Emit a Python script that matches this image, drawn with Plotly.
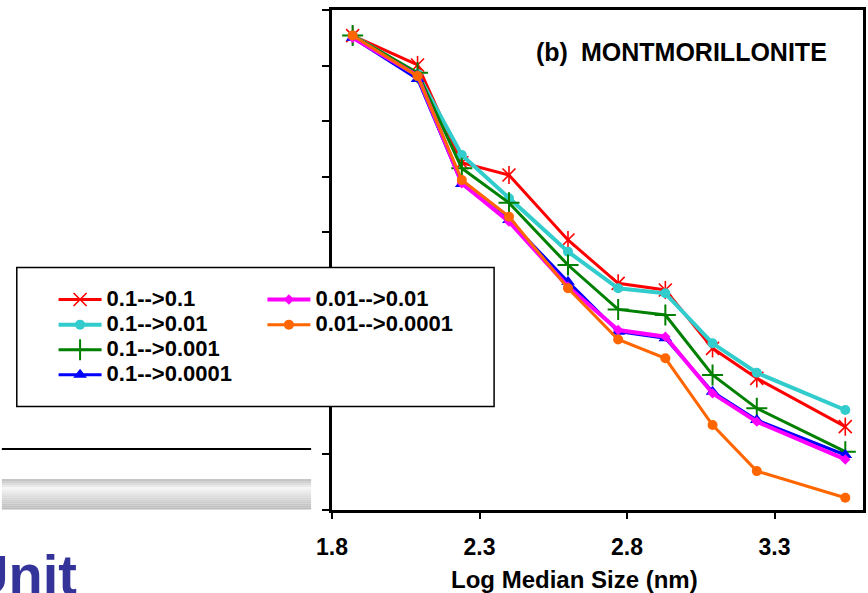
import plotly.graph_objects as go

# ---------------- data ----------------
log_size = [1.87, 2.09, 2.24, 2.40, 2.60, 2.77, 2.93, 3.09, 3.24, 3.54]

s_01_to_01 = [8.54, 8.01, 6.25, 6.03, 4.86, 4.08, 3.96, 2.91, 2.37, 1.50]
s_01_to_001 = [8.54, 7.85, 6.39, 5.61, 4.65, 3.99, 3.90, 3.00, 2.47, 1.80]
s_01_to_0001 = [8.54, 7.87, 6.15, 5.53, 4.41, 3.61, 3.51, 2.43, 1.83, 1.05]
s_01_to_00001 = [8.50, 7.76, 5.87, 5.22, 4.11, 3.21, 3.09, 2.13, 1.62, 0.99]
s_001_to_001 = [8.50, 7.82, 5.88, 5.19, 4.02, 3.24, 3.12, 2.10, 1.59, 0.91]
s_001_to_00001 = [8.54, 7.81, 5.94, 5.28, 3.99, 3.07, 2.73, 1.53, 0.70, 0.22]

series_names = ["0.1-->0.1", "0.1-->0.01", "0.1-->0.001", "0.1-->0.0001",
                "0.01-->0.01", "0.01-->0.0001"]
x_tick_vals = [1.8, 2.3, 2.8, 3.3]
x_tick_text = ["1.8", "2.3", "2.8", "3.3"]
title_tag = "(b)"
title_text = "MONTMORILLONITE"
x_title = "Log Median Size (nm)"
slide_word = "Unit"

# ---------------- figure ----------------
W, H = 868, 593
L, R, T, B = 332, 2, 10, 83
PW, PH = W - L - R, H - T - B


def px_x(px):
    return (px - L) / PW


def px_y(py):
    return (H - B - py) / PH


def lg(name):
    return "<span style='font-size:22px'>" + name + "</span>"


fig = go.Figure()

styles = [
    dict(y=s_01_to_01, color="#FF0000", lw=3, sym="x-thin-open", size=13, mlw=1.6, legend="legend"),
    dict(y=s_01_to_001, color="#33CCCC", lw=4, sym="circle", size=10, mlw=0, legend="legend"),
    dict(y=s_01_to_0001, color="#008000", lw=3, sym="cross-thin-open", size=15, mlw=2, legend="legend"),
    dict(y=s_01_to_00001, color="#0000FF", lw=3, sym="triangle-up", size=12, mlw=0, legend="legend"),
    dict(y=s_001_to_001, color="#FF00FF", lw=4, sym="diamond", size=8, mlw=0, legend="legend2"),
    dict(y=s_001_to_00001, color="#FF6600", lw=3, sym="circle", size=10, mlw=0, legend="legend2"),
]

for name, st in zip(series_names, styles):
    fig.add_trace(go.Scatter(
        x=log_size, y=st["y"], name=lg(name), mode="lines+markers",
        line=dict(color=st["color"], width=st["lw"]),
        marker=dict(symbol=st["sym"], size=st["size"], color=st["color"],
                    line=dict(color=st["color"], width=st["mlw"])),
        legend=st["legend"],
    ))
    if name == series_names[0]:
        # vertical stroke of the star marker
        fig.add_trace(go.Scatter(
            x=log_size, y=st["y"], mode="markers", showlegend=False,
            marker=dict(symbol="line-ns-open", size=13, color=st["color"],
                        line=dict(color=st["color"], width=1.6)),
        ))

shapes = []
# slide decorations on the left
shapes.append(dict(type="line", xref="paper", yref="paper",
                   x0=px_x(0), x1=px_x(311), y0=px_y(449), y1=px_y(449),
                   line=dict(color="black", width=2)))
n_strips = 15
top, bot = 479.0, 509.5
for i in range(n_strips):
    t = (i + 0.5) / n_strips
    if t < 0.3:
        b = 0.75 + (0.96 - 0.75) * (t / 0.3)
    else:
        b = 0.96 - (0.96 - 0.72) * ((t - 0.3) / 0.7)
    v = int(round(b * 255))
    y0 = top + (bot - top) * i / n_strips
    y1 = top + (bot - top) * (i + 1) / n_strips
    shapes.append(dict(type="rect", xref="paper", yref="paper",
                       x0=px_x(0), x1=px_x(311), y0=px_y(y1), y1=px_y(y0),
                       line=dict(width=0), fillcolor=f"rgb({v},{v},{v})"))
# legend box
shapes.append(dict(type="rect", xref="paper", yref="paper", layer="above",
                   x0=px_x(15), x1=px_x(495), y0=px_y(406.5), y1=px_y(267.5),
                   line=dict(color="black", width=1.5), fillcolor="white"))

bold = "Liberation Sans, Arial, sans-serif"
annotations = [
    dict(text=title_tag, xref="paper", yref="paper", x=px_x(535), y=px_y(52),
         xanchor="left", yanchor="middle", showarrow=False,
         font=dict(family=bold, size=25, color="black", weight="bold")),
    dict(text=title_text, xref="paper", yref="paper", x=px_x(832), y=px_y(52),
         xanchor="right", yanchor="middle", showarrow=False,
         font=dict(family=bold, size=25, color="black", weight="bold")),
    dict(text=x_title, xref="paper", yref="paper", x=px_x(576), y=px_y(564),
         xanchor="center", yanchor="top", showarrow=False,
         font=dict(family=bold, size=24, color="black", weight="bold")),
    dict(text=slide_word, xref="paper", yref="paper", x=px_x(78), y=px_y(541),
         xanchor="right", yanchor="top", showarrow=False,
         font=dict(family=bold, size=56, color="#333399", weight="bold")),
]

legend_common = dict(
    bgcolor="rgba(0,0,0,0)", borderwidth=0, itemwidth=43,
    font=dict(family=bold, size=17, color="black", weight="bold"),
    xanchor="left", yanchor="top", xref="paper", yref="paper",
    tracegroupgap=0, itemclick=False,
)

fig.update_layout(
    width=W, height=H,
    margin=dict(l=L, r=R, t=T, b=B, pad=0),
    paper_bgcolor="white", plot_bgcolor="white",
    showlegend=True,
    legend=dict(x=px_x(52), y=px_y(282), **legend_common),
    legend2=dict(x=px_x(262), y=px_y(282), **legend_common),
    xaxis=dict(range=[1.8, 3.6], tickvals=x_tick_vals, ticktext=x_tick_text,
               ticks="outside", ticklen=6, tickwidth=2, tickcolor="black",
               ticklabelstandoff=8,
               showline=True, linewidth=3, linecolor="black", mirror=True,
               showgrid=False, zeroline=False,
               tickfont=dict(family=bold, size=23, color="black", weight="bold")),
    yaxis=dict(range=[0, 9], tick0=0, dtick=1, ticks="outside", ticklen=7,
               tickwidth=2, tickcolor="black", showticklabels=False,
               showline=True, linewidth=3, linecolor="black", mirror=True,
               showgrid=False, zeroline=False),
    shapes=shapes,
    annotations=annotations,
)

fig.write_html("out.html",
               config={"displayModeBar": False, "staticPlot": True},
               post_script="document.body.style.margin='0';"
                           "document.body.style.overflow='hidden';")
